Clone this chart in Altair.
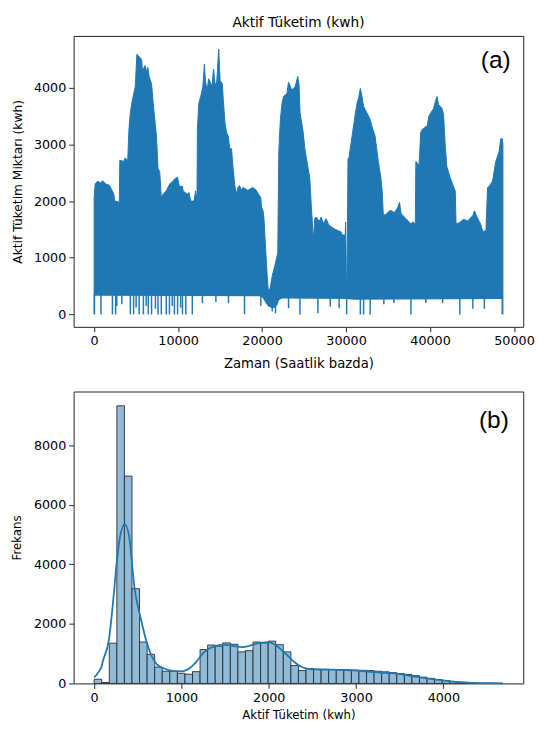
import altair as alt
import pandas as pd
import numpy as np

# ---------------- panel (a): hourly consumption envelope ----------------
# upper envelope of the dense hourly line (hour, kWh)
upper_pts = [
    (0, 2050), (120, 2300), (400, 2350), (800, 2320), (1000, 2360), (1400, 2300),
    (1800, 2280), (2100, 2200), (2350, 2120), (2450, 2000), (3000, 1980), (3060, 2720),
    (3500, 2700), (3700, 2760), (4000, 2720), (4150, 3270), (4310, 3560), (4550, 3780),
    (4900, 4020), (5090, 4590), (5300, 4560), (5650, 4500), (5750, 4300), (6060, 4390),
    (6250, 4280), (6400, 4360), (6550, 4200), (6840, 4070), (7030, 3730), (7230, 3440),
    (7420, 3150), (7610, 2580), (7810, 2520), (8000, 2060), (8200, 2120), (8590, 2180),
    (9000, 2300), (9400, 2360), (9750, 2410), (9940, 2420), (10140, 2260), (10520, 2260),
    (10600, 2180), (11100, 2120), (11300, 2150), (11500, 2000), (11890, 2000), (12080, 2180),
    (12250, 2000), (12300, 3270), (12470, 3730), (12700, 3850), (12950, 4020), (13130, 4420),
    (13250, 4130), (13450, 3950), (13640, 4160), (13830, 4100), (14030, 4020), (14220, 4330),
    (14410, 4050), (14600, 4100), (14840, 4680), (15000, 4130), (15270, 4070), (15380, 3790),
    (15580, 3385), (15770, 3210), (15970, 3150), (16160, 2925), (16360, 2925), (16550, 2580),
    (16740, 2290), (16940, 2120), (17150, 2250), (17330, 2270), (17520, 2200), (17720, 2240),
    (18300, 2190), (18880, 2240), (19270, 2200), (19460, 2150), (19850, 2060), (19930, 1890),
    (20120, 1830), (20240, 1660), (20430, 1140), (20630, 630), (20740, 425), (20940, 450),
    (21210, 680), (21600, 910), (21870, 1085), (21990, 2870), (22180, 3440), (22380, 3730),
    (22570, 3850), (22960, 3900), (23150, 4100), (23540, 3960), (23930, 4020), (24250, 4200),
    (24400, 4050), (24520, 3560), (24900, 3210), (25100, 2920), (25290, 2750), (25480, 2580),
    (25680, 2410), (25870, 1890), (26070, 1430), (26150, 1370), (26270, 1690), (26460, 1720),
    (26800, 1640), (27040, 1720), (27300, 1600), (27630, 1690), (27950, 1575), (28500, 1520),
    (29000, 1480), (29370, 1460), (29560, 1400), (29900, 1400), (29950, 1630), (30040, 600),
    (30120, 600), (30230, 2750), (30330, 2750), (30720, 3150), (31120, 3560), (31320, 3730),
    (31500, 3820), (31700, 3990), (31900, 3845), (32090, 3670), (32680, 3500), (32870, 3440),
    (33060, 3330), (33450, 3155), (33840, 2700), (34150, 2410), (34300, 2180), (34430, 1775),
    (34630, 1750), (35200, 1830), (35390, 1830), (35780, 1800), (36170, 1890), (36360, 1980),
    (36560, 1775), (37140, 1690), (37330, 1660), (37730, 1600), (37920, 1630), (38250, 1600),
    (38310, 2700), (38700, 2640), (38890, 3210), (39090, 3270), (39670, 3330), (39860, 3500),
    (40440, 3640), (40640, 3760), (40830, 3845), (41020, 3700), (41410, 3640), (41610, 3530),
    (41810, 2980), (42000, 2610), (42410, 2410), (43000, 2180), (43100, 1600), (43500, 1620),
    (44000, 1680), (44500, 1650), (45110, 1750), (45300, 1830), (45500, 1750), (46080, 1575),
    (46270, 1460), (46660, 1480), (46850, 2240), (47050, 2260), (47440, 2350), (47630, 2520),
    (47830, 2700), (48220, 2870), (48420, 3100), (48600, 3100), (48680, 3000),
]
# lower envelope (baseline of the dense line)
lower_hours = [0, 19800, 20120, 20430, 20740, 21210, 21600, 21870, 21990, 22400, 30000, 31000, 48680]
lower_vals = [330, 320, 280, 200, 140, 110, 120, 180, 250, 280, 270, 260, 270]
# isolated downward drops (hour, lowest kWh)
spike_hours = [40, 815, 2180, 2560, 2700, 3300, 4310, 4700, 5000, 5360, 5870, 6200, 6450, 6840,
               7300, 7610, 8000, 8590, 8970, 9300, 9560, 9940, 10300, 10520, 10920, 11690,
               12900, 14500, 16000, 17910, 19850, 21210, 21600, 23150, 24510, 26650, 28120,
               29170, 30070, 31700, 32090, 32870, 34500, 35700, 37730, 39500, 41500, 43550,
               45100, 46470, 48600]
spike_bottom = [0, 0, 0, 0, 150, 180, 0, 0, 120, 0, 0, 150, 0, 0,
                100, 0, 0, 0, 0, 150, 0, 0, 120, 0, 0, 0,
                200, 220, 200, 0, 150, 50, 20, 110, 0, 20, 140,
                110, 0, 0, 0, 0, 180, 200, 0, 200, 200, 0,
                100, 100, 0]

# ---------------- panel (b): histogram + KDE ----------------
bin_counts = [140, 30, 1350, 9320, 6960, 3180, 1390, 975, 550, 410, 410, 340, 310, 395,
              1140, 1290, 1250, 1360, 1315, 1060, 1100, 1390, 1360, 1420, 1300, 1060, 600, 430,
              500, 480, 475, 470, 465, 460, 450, 440, 430, 410, 390, 360, 330, 300, 260, 210,
              170, 130, 95, 65, 40, 25, 14, 8, 4, 2]
bin_min, bin_max = 0, 4680
kde_x = [0, 50, 86, 100, 169, 218, 256, 293, 350, 400, 462, 539, 600, 650, 718, 800, 900, 1000,
         1100, 1175, 1250, 1325, 1400, 1475, 1550, 1625, 1700, 1775, 1850, 1925, 2000, 2095,
         2190, 2285, 2378, 2472, 2678, 3000, 3240, 3460, 3690, 3840, 3990, 4140, 4330, 4500, 4680]
kde_y = [200, 380, 580, 750, 1460, 2770, 3980, 4860, 5350, 4950, 3210, 2120, 1400, 980, 640, 500,
         420, 405, 525, 745, 1020, 1180, 1260, 1300, 1280, 1240, 1220, 1260, 1330, 1370, 1390,
         1250, 1010, 735, 550, 480, 460, 430, 370, 330, 220, 155, 100, 55, 22, 8, 2]

FONT = "DejaVu Sans"
BLUE = "#1f77b4"

up_df = pd.DataFrame(upper_pts, columns=["h", "v"])
low_df = pd.DataFrame({"h": lower_hours, "v": lower_vals})
sp_df = pd.DataFrame({"h": spike_hours, "b": spike_bottom})

xs_a = alt.Scale(domain=[-2440, 51100], nice=False, zero=False)
ys_a = alt.Scale(domain=[-220, 4915], nice=False, zero=False)

xaxis_a = alt.Axis(values=[0, 10000, 20000, 30000, 40000, 50000], format="d",
                   title="Zaman (Saatlik bazda)", titleFontSize=13.5, titlePadding=9)
yaxis_a = alt.Axis(values=[0, 1000, 2000, 3000, 4000], format="d",
                   title="Aktif Tüketim Miktarı (kwh)", titleFontSize=12.5, titlePadding=9)

blue_area = alt.Chart(up_df).mark_area(color=BLUE, opacity=1, stroke=BLUE, strokeWidth=1).encode(
    x=alt.X("h:Q", scale=xs_a, axis=xaxis_a),
    y=alt.Y("v:Q", scale=ys_a, axis=yaxis_a),
    y2=alt.datum(0),
)
mask = alt.Chart(low_df).mark_area(color="white", opacity=1).encode(
    x="h:Q", y="v:Q", y2=alt.datum(-150)
)
spikes = alt.Chart(sp_df).mark_rule(color=BLUE, strokeWidth=1.5).encode(
    x="h:Q", y="b:Q", y2=alt.datum(360)
)
label_a = alt.Chart(pd.DataFrame({"t": ["(a)"]})).mark_text(
    font="Liberation Sans", fontSize=25, color="black", align="center", baseline="middle"
).encode(text="t:N", x=alt.value(431), y=alt.value(25))
title_a = alt.Chart(pd.DataFrame({"t": ["Aktif Tüketim (kwh)"]})).mark_text(
    font=FONT, fontSize=14, color="black", align="center", baseline="middle"
).encode(text="t:N", x=alt.value(229.5), y=alt.value(-13))

top = alt.layer(blue_area, mask, spikes, label_a, title_a).properties(width=459, height=297)

edges = np.linspace(bin_min, bin_max, len(bin_counts) + 1)
hist_df = pd.DataFrame({"x0": edges[:-1], "x1": edges[1:], "c": bin_counts})
kde_df = pd.DataFrame({"x": kde_x, "y": kde_y})

xs_b = alt.Scale(domain=[-235, 4915], nice=False, zero=False)
ys_b = alt.Scale(domain=[0, 9800], nice=False, zero=False)

bars = alt.Chart(hist_df).mark_rect(fill="#8fbbd9", stroke="#2a2a2a", strokeWidth=0.9).encode(
    x=alt.X("x0:Q", scale=xs_b, axis=alt.Axis(values=[0, 1000, 2000, 3000, 4000], format="d",
                                              title="Aktif Tüketim (kwh)", titleFontSize=12,
                                              titlePadding=6)),
    x2="x1:Q",
    y=alt.Y("c:Q", scale=ys_b, axis=alt.Axis(values=[0, 2000, 4000, 6000, 8000], format="d",
                                             title="Frekans", titleFontSize=12, titlePadding=10)),
    y2=alt.datum(0),
)
kde = alt.Chart(kde_df).mark_line(color=BLUE, strokeWidth=1.8, interpolate="monotone").encode(
    x="x:Q", y="y:Q"
)
label_b = alt.Chart(pd.DataFrame({"t": ["(b)"]})).mark_text(
    font="Liberation Sans", fontSize=25, color="black", align="center", baseline="middle"
).encode(text="t:N", x=alt.value(429), y=alt.value(29))

bottom = alt.layer(bars, kde, label_b).properties(width=459, height=298)

chart = alt.vconcat(top, bottom, spacing=21).properties(
    padding={"left": 2, "top": 0, "right": 0, "bottom": 0}
).configure_view(
    stroke="#222222", strokeWidth=1
).configure_axis(
    domain=False, grid=False, tickColor="#222222", tickSize=5, tickWidth=1,
    labelFont=FONT, labelFontSize=13, labelColor="black", labelPadding=3,
    titleFont=FONT, titleFontWeight="normal", titleColor="black",
    labelFlush=False, labelOverlap=False,
)

chart.save("out.html", embed_options={"renderer": "svg", "actions": False})
